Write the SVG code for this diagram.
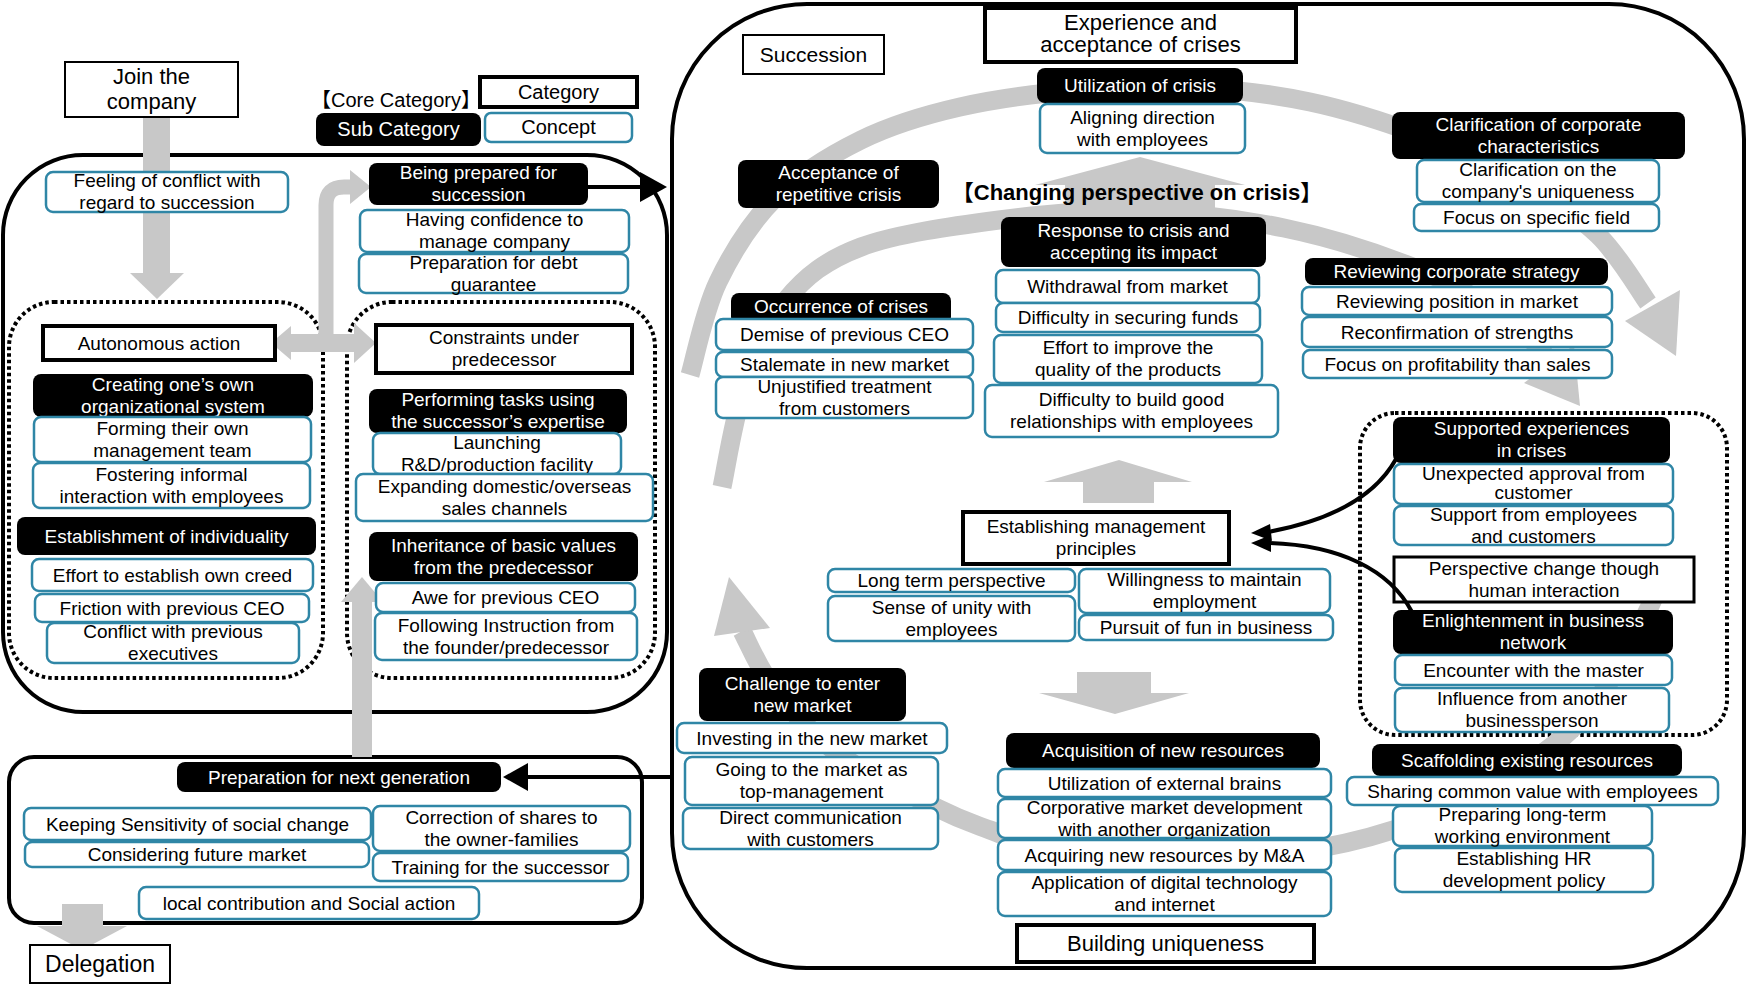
<svg xmlns="http://www.w3.org/2000/svg" width="1750" height="984" viewBox="0 0 1750 984">
<style>
.panel{fill:none;stroke:#000;stroke-width:4}
.dot{fill:none;stroke:#000;stroke-width:4;stroke-dasharray:3.5 3}
.cat{fill:#fff;stroke:#000;stroke-width:4}
.thin{fill:#fff;stroke:#000;stroke-width:2}
.sub{fill:#000}
.con{fill:#fff;stroke:#2f86a6;stroke-width:2.5}
.arc{fill:none;stroke:#c8c8c8;stroke-width:19}
.gray{fill:#c8c8c8}
.gstroke{fill:none;stroke:#c8c8c8}
.blk{fill:none;stroke:#000;stroke-width:4}
text{font-family:"Liberation Sans",Arial,"Noto Sans CJK JP",sans-serif;font-size:19px;text-anchor:middle;fill:#000}
.w{fill:#fff}
.big{font-size:22px}
</style>
<rect width="1750" height="984" fill="#fff"/>

<!-- panels -->
<g id="panels">
<rect class="panel" x="3" y="155" width="664" height="557" rx="80"/>
<rect class="panel" x="672" y="4" width="1072" height="964" rx="135"/>
<rect class="panel" x="9" y="757" width="633" height="166" rx="25"/>
<rect class="dot" x="9" y="302" width="314" height="376" rx="45"/>
<rect class="dot" x="347" y="302" width="308" height="376" rx="45"/>
<rect class="dot" x="1360" y="413" width="367" height="322" rx="35"/>
</g>

<!-- connectors -->
<g id="connectors">
<!-- join -> down -->
<rect class="gray" x="143" y="117" width="27" height="157"/>
<polygon class="gray" points="130,273 184,273 157,299"/>
<!-- double arrow + turn up -->
<rect class="gray" x="289" y="334" width="67" height="18"/>
<polygon class="gray" points="291,326 271,343 291,360"/>
<polygon class="gray" points="354,323 376,343 354,363"/>
<path class="gstroke" stroke-width="15" d="M326,343 L326,205 Q326,187 344,187 L352,187"/>
<polygon class="gray" points="350,170 371,187 350,204"/>
<!-- bottom panel up to inheritance -->
<rect class="gray" x="352" y="600" width="20" height="157"/>
<polygon class="gray" points="341,602 362,577 383,602"/>
<!-- delegation -->
<rect class="gray" x="62" y="904" width="41" height="23"/>
<polygon class="gray" points="37,926 127,926 82,950"/>
<!-- outer arc -->
<path class="arc" d="M690,375 C694.7,359.5 703.8,311.5 718,282 C732.2,252.5 751.2,221.7 775,198 C798.8,174.3 830.2,155.2 861,140 C891.8,124.8 923.5,115.3 960,107 C996.5,98.7 1040,93.2 1080,90 C1120,86.8 1161.7,86 1200,88 C1238.3,90 1273.3,94.2 1310,102 C1346.7,109.8 1385,122 1420,135 C1455,148 1490.3,163.3 1520,180 C1549.7,196.7 1576.7,214.5 1598,235 C1619.3,255.5 1639.7,291.7 1648,303"/>
<polygon class="gray" points="1625,321 1676,356 1680,290"/>
<!-- inner arc -->
<path class="arc" d="M722,487 C725.7,470.5 733.3,419.2 744,388 C754.7,356.8 766.5,323.5 786,300 C805.5,276.5 825.5,260.3 861,247 C896.5,233.7 953.3,226 999,220 C1044.7,214 1087.5,209.7 1135,211 C1182.5,212.3 1236.5,218.2 1284,228 C1331.5,237.8 1383.2,255 1420,270 C1456.8,285 1483.3,303.3 1505,318 C1526.7,332.7 1542.5,351.3 1550,362"/>
<polygon class="gray" points="1524,383 1580,406 1574,345"/>
<!-- lower arc -->
<path class="arc" d="M1668,560 C1665,567.7 1659.3,586.3 1650,606 C1640.7,625.7 1626.7,656 1612,678 C1597.3,700 1583.7,719.3 1562,738 C1540.3,756.7 1510.2,774.7 1482,790 C1453.8,805.3 1425,819.5 1393,830 C1361,840.5 1328,847.7 1290,853 C1252,858.3 1205,862.5 1165,862 C1125,861.5 1079.2,855.3 1050,850 C1020.8,844.7 1008.8,837 990,830 C971.2,823 962,820.5 937,808 C912,795.5 867,774.7 840,755 C813,735.3 791.3,710.7 775,690 C758.7,669.3 747.5,640.8 742,631"/>
<polygon class="gray" points="714,636 729,577 770,628"/>
<!-- changing perspective up arrow -->
<rect class="gray" x="1065" y="184" width="150" height="34"/>
<polygon class="gray" points="1035,185 1140,157 1245,185"/>
<!-- up arrow above establishing -->
<rect class="gray" x="1083" y="481" width="71" height="22"/>
<polygon class="gray" points="1044,482 1119,460 1192,482"/>
<!-- down arrow below pursuit -->
<rect class="gray" x="1077" y="672" width="74" height="22"/>
<polygon class="gray" points="1039,693 1189,693 1115,714"/>
</g>

<!-- legend -->
<g id="legend-core"><text x="396" y="107" style="font-size:20px">【Core Category】</text></g>
<g id="legend-category"><rect class="cat" x="480" y="77" width="157" height="30"/><text x="558.5" y="99" style="font-size:20px">Category</text></g>
<g id="legend-sub"><rect class="sub" x="316" y="113" width="165" height="33" rx="8"/><text class="w" x="398.5" y="136" style="font-size:20px">Sub Category</text></g>
<g id="legend-concept"><rect class="con" x="485" y="113" width="147" height="29" rx="6"/><text x="558.5" y="134" style="font-size:20px">Concept</text></g>

<!-- left panel -->
<g id="join"><rect class="thin" x="65" y="62" width="173" height="55"/><text class="big" x="151.5" y="84">Join the</text><text class="big" x="151.5" y="109">company</text></g>
<g id="feeling"><rect class="con" x="46" y="172" width="242" height="40" rx="7"/><text x="167" y="187">Feeling of conflict with</text><text x="167" y="209">regard to succession</text></g>
<g id="being"><rect class="sub" x="369" y="163" width="219" height="42" rx="8"/><text class="w" x="478.5" y="179">Being prepared for</text><text class="w" x="478.5" y="201">succession</text></g>
<g id="having"><rect class="con" x="360" y="210" width="269" height="42" rx="7"/><text x="494.5" y="226">Having confidence to</text><text x="494.5" y="248">manage company</text></g>
<g id="debt"><rect class="con" x="359" y="254" width="269" height="39" rx="7"/><text x="493.5" y="268.5">Preparation for debt</text><text x="493.5" y="290.5">guarantee</text></g>
<g id="autonomous"><rect class="cat" x="43" y="326" width="232" height="34"/><text x="159" y="349.5">Autonomous action</text></g>
<g id="constraints"><rect class="cat" x="376" y="325" width="256" height="48"/><text x="504" y="344">Constraints under</text><text x="504" y="366">predecessor</text></g>
<g id="creating"><rect class="sub" x="33" y="374" width="280" height="43" rx="8"/><text class="w" x="173" y="390.5">Creating one’s own</text><text class="w" x="173" y="412.5">organizational system</text></g>
<g id="forming"><rect class="con" x="34" y="417" width="277" height="45" rx="7"/><text x="172.5" y="434.5">Forming their own</text><text x="172.5" y="456.5">management team</text></g>
<g id="fostering"><rect class="con" x="33" y="463" width="277" height="45" rx="7"/><text x="171.5" y="480.5">Fostering informal</text><text x="171.5" y="502.5">interaction with employees</text></g>
<g id="individuality"><rect class="sub" x="17" y="517" width="299" height="38" rx="8"/><text class="w" x="166.5" y="542.5">Establishment of individuality</text></g>
<g id="effort"><rect class="con" x="32" y="559" width="281" height="32" rx="7"/><text x="172.5" y="581.5">Effort to establish own creed</text></g>
<g id="friction"><rect class="con" x="35" y="594" width="274" height="28" rx="7"/><text x="172" y="614.5">Friction with previous CEO</text></g>
<g id="conflict"><rect class="con" x="47" y="623" width="252" height="40" rx="7"/><text x="173" y="638">Conflict with previous</text><text x="173" y="660">executives</text></g>
<g id="performing"><rect class="sub" x="369" y="389" width="258" height="44" rx="8"/><text class="w" x="498" y="406">Performing tasks using</text><text class="w" x="498" y="428">the successor’s expertise</text></g>
<g id="launching"><rect class="con" x="373" y="433" width="248" height="41" rx="7"/><text x="497" y="448.5">Launching</text><text x="497" y="470.5">R&amp;D/production facility</text></g>
<g id="expanding"><rect class="con" x="356" y="474" width="297" height="47" rx="7"/><text x="504.5" y="492.5">Expanding domestic/overseas</text><text x="504.5" y="514.5">sales channels</text></g>
<g id="inheritance"><rect class="sub" x="369" y="532" width="269" height="49" rx="8"/><text class="w" x="503.5" y="551.5">Inheritance of basic values</text><text class="w" x="503.5" y="573.5">from the predecessor</text></g>
<g id="awe"><rect class="con" x="376" y="583" width="259" height="29" rx="7"/><text x="505.5" y="604">Awe for previous CEO</text></g>
<g id="following"><rect class="con" x="375" y="613" width="262" height="47" rx="7"/><text x="506" y="631.5">Following Instruction from</text><text x="506" y="653.5">the founder/predecessor</text></g>

<!-- bottom panel -->
<g id="nextgen"><rect class="sub" x="177" y="762" width="324" height="30" rx="8"/><text class="w" x="339" y="783.5">Preparation for next generation</text></g>
<g id="keeping"><rect class="con" x="24" y="808" width="347" height="32" rx="7"/><text x="197.5" y="830.5">Keeping Sensitivity of social change</text></g>
<g id="considering"><rect class="con" x="25" y="842" width="344" height="25" rx="7"/><text x="197" y="861">Considering future market</text></g>
<g id="correction"><rect class="con" x="373" y="806" width="257" height="45" rx="7"/><text x="501.5" y="823.5">Correction of shares to</text><text x="501.5" y="845.5">the owner-families</text></g>
<g id="training"><rect class="con" x="373" y="853" width="255" height="28" rx="7"/><text x="500.5" y="873.5">Training for the successor</text></g>
<g id="local"><rect class="con" x="139" y="887" width="340" height="32" rx="7"/><text x="309" y="909.5">local contribution and Social action</text></g>
<g id="delegation"><rect class="thin" x="30" y="945" width="140" height="38"/><text x="100" y="972" style="font-size:23px">Delegation</text></g>

<!-- right panel -->
<g id="succession"><rect class="thin" x="743" y="35" width="141" height="39"/><text x="813.5" y="62" style="font-size:21px">Succession</text></g>
<g id="experience"><rect class="cat" x="985" y="8" width="311" height="54"/><text class="big" x="1140.5" y="30">Experience and</text><text class="big" x="1140.5" y="52">acceptance of crises</text></g>
<g id="utilization"><rect class="sub" x="1037" y="68" width="206" height="35" rx="8"/><text class="w" x="1140" y="92">Utilization of crisis</text></g>
<g id="aligning"><rect class="con" x="1040" y="104" width="205" height="49" rx="7"/><text x="1142.5" y="123.5">Aligning direction</text><text x="1142.5" y="145.5">with employees</text></g>
<g id="acceptance"><rect class="sub" x="738" y="160" width="201" height="48" rx="8"/><text class="w" x="838.5" y="179">Acceptance of</text><text class="w" x="838.5" y="201">repetitive crisis</text></g>
<g id="changing"><text x="1137" y="200" style="font-size:22px;font-weight:bold">【Changing perspective on crisis】</text></g>
<g id="response"><rect class="sub" x="1001" y="217" width="265" height="50" rx="8"/><text class="w" x="1133.5" y="237">Response to crisis and</text><text class="w" x="1133.5" y="259">accepting its impact</text></g>
<g id="withdrawal"><rect class="con" x="996" y="270" width="263" height="33" rx="7"/><text x="1127.5" y="293">Withdrawal from market</text></g>
<g id="funds"><rect class="con" x="996" y="303" width="264" height="29" rx="7"/><text x="1128" y="324">Difficulty in securing funds</text></g>
<g id="quality"><rect class="con" x="994" y="335" width="268" height="48" rx="7"/><text x="1128" y="354">Effort to improve the</text><text x="1128" y="376">quality of the products</text></g>
<g id="relationships"><rect class="con" x="985" y="385" width="293" height="52" rx="7"/><text x="1131.5" y="406">Difficulty to build good</text><text x="1131.5" y="428">relationships with employees</text></g>
<g id="occurrence"><rect class="sub" x="731" y="293" width="220" height="32" rx="8"/><text class="w" x="841" y="313">Occurrence of crises</text></g>
<g id="demise"><rect class="con" x="716" y="319" width="257" height="31" rx="7"/><text x="844.5" y="341">Demise of previous CEO</text></g>
<g id="stalemate"><rect class="con" x="716" y="352" width="257" height="25" rx="7"/><text x="844.5" y="371">Stalemate in new market</text></g>
<g id="unjustified"><rect class="con" x="716" y="377" width="257" height="41" rx="7"/><text x="844.5" y="392.5">Unjustified treatment</text><text x="844.5" y="414.5">from customers</text></g>
<g id="clarification"><rect class="sub" x="1392" y="112" width="293" height="47" rx="8"/><text class="w" x="1538.5" y="130.5">Clarification of corporate</text><text class="w" x="1538.5" y="152.5">characteristics</text></g>
<g id="uniqueness"><rect class="con" x="1417" y="160" width="242" height="42" rx="7"/><text x="1538" y="176">Clarification on the</text><text x="1538" y="198">company's uniqueness</text></g>
<g id="field"><rect class="con" x="1414" y="204" width="245" height="27" rx="7"/><text x="1536.5" y="224">Focus on specific field</text></g>
<g id="reviewing"><rect class="sub" x="1305" y="258" width="303" height="27" rx="8"/><text class="w" x="1456.5" y="278">Reviewing corporate strategy</text></g>
<g id="position"><rect class="con" x="1302" y="287" width="310" height="28" rx="7"/><text x="1457" y="307.5">Reviewing position in market</text></g>
<g id="strengths"><rect class="con" x="1302" y="317" width="310" height="30" rx="7"/><text x="1457" y="338.5">Reconfirmation of strengths</text></g>
<g id="profitability"><rect class="con" x="1303" y="350" width="309" height="28" rx="7"/><text x="1457.5" y="370.5">Focus on profitability than sales</text></g>
<g id="principles"><rect class="cat" x="963" y="512" width="266" height="52"/><text x="1096" y="533">Establishing management</text><text x="1096" y="555">principles</text></g>
<g id="longterm"><rect class="con" x="828" y="569" width="247" height="23" rx="7"/><text x="951.5" y="587">Long term perspective</text></g>
<g id="unity"><rect class="con" x="828" y="596" width="247" height="45" rx="7"/><text x="951.5" y="613.5">Sense of unity with</text><text x="951.5" y="635.5">employees</text></g>
<g id="willingness"><rect class="con" x="1079" y="569" width="251" height="44" rx="7"/><text x="1204.5" y="586">Willingness to maintain</text><text x="1204.5" y="608">employment</text></g>
<g id="fun"><rect class="con" x="1079" y="615" width="254" height="25" rx="7"/><text x="1206" y="634">Pursuit of fun in business</text></g>
<g id="supported"><rect class="sub" x="1393" y="417" width="277" height="46" rx="8"/><text class="w" x="1531.5" y="435">Supported experiences</text><text class="w" x="1531.5" y="457">in crises</text></g>
<g id="unexpected"><rect class="con" x="1394" y="464" width="279" height="40" rx="7"/><text x="1533.5" y="480">Unexpected approval from</text><text x="1533.5" y="499">customer</text></g>
<g id="support"><rect class="con" x="1394" y="506" width="279" height="39" rx="7"/><text x="1533.5" y="520.5">Support from employees</text><text x="1533.5" y="542.5">and customers</text></g>
<g id="perspective"><rect class="cat" style="stroke-width:3" x="1394" y="557" width="300" height="45"/><text x="1544" y="574.5">Perspective change though</text><text x="1544" y="596.5">human interaction</text></g>
<g id="enlightenment"><rect class="sub" x="1393" y="610" width="280" height="44" rx="8"/><text class="w" x="1533" y="627">Enlightenment in business</text><text class="w" x="1533" y="649">network</text></g>
<g id="master"><rect class="con" x="1395" y="655" width="277" height="30" rx="7"/><text x="1533.5" y="676.5">Encounter with the master</text></g>
<g id="influence"><rect class="con" x="1395" y="688" width="274" height="44" rx="7"/><text x="1532" y="705">Influence from another</text><text x="1532" y="727">businessperson</text></g>
<g id="scaffolding"><rect class="sub" x="1372" y="744" width="310" height="32" rx="8"/><text class="w" x="1527" y="766.5">Scaffolding existing resources</text></g>
<g id="sharing"><rect class="con" x="1347" y="777" width="371" height="28" rx="7"/><text x="1532.5" y="797.5">Sharing common value with employees</text></g>
<g id="preparing"><rect class="con" x="1393" y="806" width="259" height="40" rx="7"/><text x="1522.5" y="821">Preparing long-term</text><text x="1522.5" y="843">working environment</text></g>
<g id="hr"><rect class="con" x="1395" y="848" width="258" height="44" rx="7"/><text x="1524" y="865">Establishing HR</text><text x="1524" y="887">development policy</text></g>
<g id="challenge"><rect class="sub" x="699" y="668" width="207" height="53" rx="8"/><text class="w" x="802.5" y="689.5">Challenge to enter</text><text class="w" x="802.5" y="711.5">new market</text></g>
<g id="investing"><rect class="con" x="677" y="723" width="270" height="30" rx="7"/><text x="812" y="744.5">Investing in the new market</text></g>
<g id="going"><rect class="con" x="685" y="757" width="253" height="48" rx="7"/><text x="811.5" y="776">Going to the market as</text><text x="811.5" y="798">top-management</text></g>
<g id="direct"><rect class="con" x="683" y="808" width="255" height="41" rx="7"/><text x="810.5" y="823.5">Direct communication</text><text x="810.5" y="845.5">with customers</text></g>
<g id="acquisition"><rect class="sub" x="1006" y="733" width="314" height="35" rx="8"/><text class="w" x="1163" y="757">Acquisition of new resources</text></g>
<g id="brains"><rect class="con" x="998" y="769" width="333" height="28" rx="7"/><text x="1164.5" y="789.5">Utilization of external brains</text></g>
<g id="corporative"><rect class="con" x="998" y="799" width="333" height="39" rx="7"/><text x="1164.5" y="813.5">Corporative market development</text><text x="1164.5" y="835.5">with another organization</text></g>
<g id="ma"><rect class="con" x="998" y="840" width="333" height="30" rx="7"/><text x="1164.5" y="861.5">Acquiring new resources by M&amp;A</text></g>
<g id="digital"><rect class="con" x="998" y="872" width="333" height="44" rx="7"/><text x="1164.5" y="889">Application of digital technology</text><text x="1164.5" y="911">and internet</text></g>
<g id="building"><rect class="cat" x="1017" y="925" width="297" height="37"/><text class="big" x="1165.5" y="951">Building uniqueness</text></g>

<!-- black arrows -->
<g id="black-connectors">
<line class="blk" x1="588" y1="187" x2="642" y2="187"/>
<polygon points="640,172 667,187 640,202" fill="#000"/>
<line class="blk" x1="672" y1="777" x2="526" y2="777"/>
<polygon points="528,763 503,777 528,791" fill="#000"/>
<path class="blk" d="M1396,459 C1372,502 1322,522 1268,532"/>
<polygon points="1270,524 1251,533 1272,541" fill="#000"/>
<path class="blk" d="M1412,612 C1390,570 1340,545 1268,543"/>
<polygon points="1271,535 1251,543 1271,552" fill="#000"/>
</g>
</svg>
